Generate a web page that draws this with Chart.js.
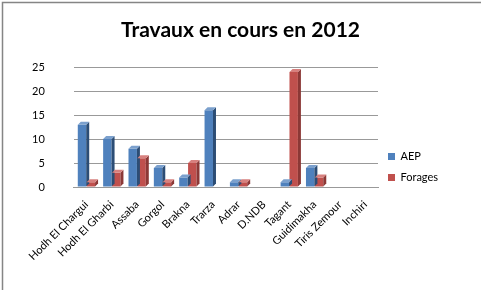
<!DOCTYPE html>
<html>
<head>
<meta charset="utf-8">
<script src="https://cdn.jsdelivr.net/npm/chart.js@4.4.0/dist/chart.umd.min.js"></script>
<style>
  body { margin: 0; background: #fff; }
  #wrap { position: relative; width: 481px; height: 290px; }
</style>
</head>
<body>
<div id="wrap"><canvas id="chart" width="481" height="290"></canvas></div>
<script>
const regions = ['Hodh El Chargui', 'Hodh El Gharbi', 'Assaba', 'Gorgol', 'Brakna', 'Trarza',
                 'Adrar', 'D.NDB', 'Tagant', 'Guidimakha', 'Tiris Zemour', 'Inchiri'];
const aep = [13, 10, 8, 4, 2, 16, 1, 0, 1, 4, 0, 0];
const forages = [1, 3, 6, 1, 5, 0, 1, 0, 24, 2, 0, 0];
const yTicks = [0, 5, 10, 15, 20, 25];

const font = 'Lato';

// fake Excel 3D look: side + top face on each bar, plus outer frame
const depth = {
    id: 'depth',
    beforeLayout(chart) {
        // fixed legend column width so the plot ends where the original does
        const lg = chart.legend;
        if (lg && !lg._fixed) {
            const fit = lg.fit;
            lg.fit = function () {
                fit.call(this);
                if (!this.isHorizontal()) this.width = 100;
            };
            lg._fixed = true;
        }
    },
    afterLayout(chart) {
        // legend sits lower than centre in the original
        const lg = chart.legend;
        if (lg) {
            lg.top += 29;
            lg.bottom += 29;
        }
    },
    afterDatasetsDraw(chart) {
        const ctx = chart.ctx;
        const d = 3;
        const sides = ['#2c4d75', '#8c3836'];
        const tops = ['#7ba0cd', '#d7807e'];
        chart.data.datasets.forEach((ds, i) => {
            chart.getDatasetMeta(i).data.forEach((bar, j) => {
                if (!ds.data[j]) return;
                const x0 = bar.x - bar.width / 2, x1 = bar.x + bar.width / 2;
                ctx.save();
                ctx.fillStyle = sides[i];
                ctx.beginPath();
                ctx.moveTo(x1, bar.y);
                ctx.lineTo(x1 + d, bar.y - d);
                ctx.lineTo(x1 + d, bar.base - d);
                ctx.lineTo(x1, bar.base);
                ctx.closePath();
                ctx.fill();
                ctx.fillStyle = tops[i];
                ctx.beginPath();
                ctx.moveTo(x0, bar.y);
                ctx.lineTo(x0 + d, bar.y - d);
                ctx.lineTo(x1 + d, bar.y - d);
                ctx.lineTo(x1, bar.y);
                ctx.closePath();
                ctx.fill();
                ctx.restore();
            });
        });
    },
    afterDraw(chart) {
        // frame: only top and left edges are visible in the picture
        const ctx = chart.ctx;
        ctx.save();
        ctx.strokeStyle = '#858585';
        ctx.lineWidth = 1.5;
        ctx.beginPath();
        ctx.moveTo(2.5, 290);
        ctx.lineTo(2.5, 2.5);
        ctx.lineTo(481, 2.5);
        ctx.stroke();
        ctx.restore();
    }
};

new Chart(document.getElementById('chart').getContext('2d'), {
    type: 'bar',
    data: {
        labels: regions,
        datasets: [{
            label: 'AEP',
            data: aep,
            backgroundColor: '#4f81bd'
        }, {
            label: 'Forages',
            data: forages,
            backgroundColor: '#c0504d'
        }]
    },
    options: {
        responsive: false,
        animation: false,
        layout: { padding: { left: 3, right: 3, top: 10, bottom: 24 } },
        datasets: { bar: { categoryPercentage: 0.7, barPercentage: 0.95 } },
        plugins: {
            title: {
                display: true,
                text: 'Travaux en cours en 2012',
                color: '#000',
                font: { family: font, size: 21, weight: 'bold' },
                padding: { top: 8, bottom: 24 }
            },
            legend: {
                position: 'right',
                align: 'center',
                labels: {
                    color: '#000',
                    font: { family: font, size: 11 },
                    boxWidth: 7,
                    boxHeight: 7,
                    padding: 10
                }
            },
            tooltip: { enabled: false }
        },
        scales: {
            x: {
                grid: { display: false },
                border: { color: '#999' },
                ticks: {
                    color: '#000',
                    font: { family: font, size: 11 },
                    minRotation: 45,
                    maxRotation: 45,
                    autoSkip: false
                }
            },
            y: {
                min: 0,
                max: 25,
                afterBuildTicks: axis => { axis.ticks = yTicks.map(v => ({ value: v })); },
                grid: { color: '#999', drawTicks: false },
                border: { display: false },
                ticks: {
                    color: '#000',
                    font: { family: font, size: 11 },
                    padding: 29
                }
            }
        }
    },
    plugins: [depth]
});
</script>
</body>
</html>
